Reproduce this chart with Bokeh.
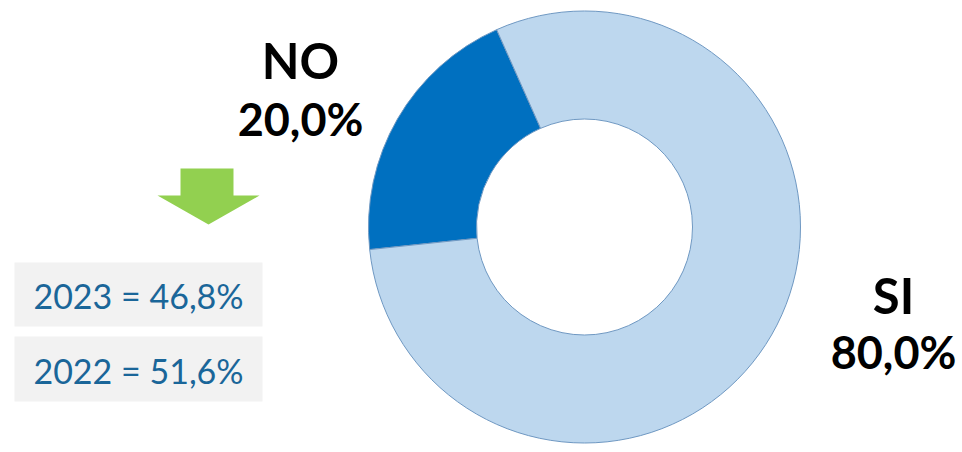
import numpy as np
from bokeh.plotting import figure
from bokeh.models import Range1d, ColumnDataSource
from bokeh.core.properties import value
from bokeh.embed import file_html
from bokeh.resources import INLINE

# ---- data ----
categories = ["NO", "SI"]
shares = [20.0, 80.0]
colors = ["#0070C0", "#BDD7EE"]
years = ["2023", "2022"]
year_values = [46.8, 51.6]

def fmt(v):
    return f"{v:.1f}".replace(".", ",") + "%"

# ---- layout (page pixel coordinates, y flipped) ----
W, H = 962, 452
def Y(y):
    return H - y

p = figure(width=W, height=H, x_range=Range1d(0, W), y_range=Range1d(0, H),
           x_axis_location=None, y_axis_location=None, toolbar_location=None,
           output_backend="svg", min_border=0)
p.grid.visible = False
p.outline_line_color = None
p.background_fill_color = "white"

# donut
cx, cy, r_out, r_in = 584, Y(226.5), 216, 108
start_deg = 114.0
angles = np.array(shares) / sum(shares) * 2 * np.pi
ends = np.radians(start_deg) + np.cumsum(angles)
starts = ends - angles
src = ColumnDataSource(dict(start=starts, end=ends, color=colors, cat=categories))
p.annular_wedge(x=cx, y=cy, inner_radius=r_in, outer_radius=r_out,
                start_angle="start", end_angle="end", fill_color="color",
                line_color="#6F98C2", line_width=1, source=src)

# category labels
label_pos = {"NO": (300, 59, 118), "SI": (893, 294, 351)}
for cat, val in zip(categories, shares):
    x, y1, y2 = label_pos[cat]
    p.text(x=[x], y=[Y(y1)], text=[cat], text_font=value("Lato"), text_font_style="bold",
           text_font_size="49px", text_align="center", text_baseline="middle", text_color="black")
    p.text(x=[x], y=[Y(y2)], text=[fmt(val)], text_font=value("Lato"), text_font_style="bold",
           text_font_size="45px", text_align="center", text_baseline="middle", text_color="black")

# green arrow
ax = [180, 233, 233, 259, 208, 157, 180]
ay = [168, 168, 195, 195, 224, 195, 195]
p.patch(x=ax, y=[Y(v) for v in ay], fill_color="#92D050", line_color=None)

# comparison boxes
box_tops = [262, 336]
box_bottoms = [326, 401]
for yr, v, t, b in zip(years, year_values, box_tops, box_bottoms):
    p.quad(left=14, right=262, top=Y(t), bottom=Y(b), fill_color="#F2F2F2", line_color=None)
    p.text(x=[138], y=[Y((t + b) / 2 + 1)], text=[f"{yr} = {fmt(v)}"], text_font=value("Lato"),
           text_font_size="34px", text_align="center", text_baseline="middle", text_color="#1A6699")

open("out.html", "w").write(file_html(p, INLINE))
